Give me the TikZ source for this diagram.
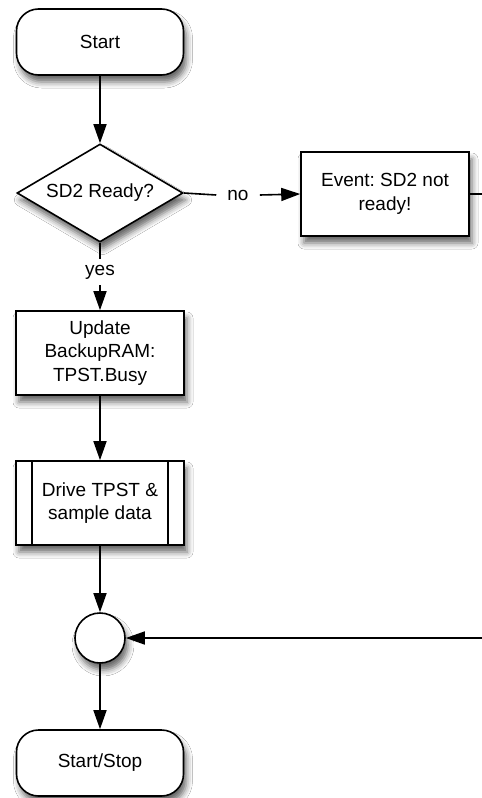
\documentclass[tikz,border=0pt]{standalone}
\usepackage{fontspec}
\setmainfont{Liberation Sans}
\frenchspacing
\usetikzlibrary{shapes.geometric,arrows.meta,shadows.blur}
\begin{document}
\begin{tikzpicture}[x=1pt,y=-1pt,
  font=\fontsize{19}{23.5}\selectfont\frenchspacing,
  shd/.style={blur shadow={shadow xshift=3pt,shadow yshift=-7pt,shadow blur radius=6pt,shadow opacity=60}},
  term/.style={draw,line width=1.6pt,fill=white,rounded corners=22pt,minimum width=167pt,minimum height=66pt,inner sep=0pt,shd},
  procbox/.style={draw,line width=1.6pt,fill=white,minimum width=168pt,minimum height=84pt,inner sep=0pt,align=center,shd},
  decision/.style={draw,line width=1.6pt,fill=white,diamond,aspect=1.7,minimum width=166pt,minimum height=98pt,inner sep=0pt,shd},
  junction/.style={draw,line width=1.6pt,fill=white,circle,minimum size=50pt,inner sep=0pt,shd},
  lbl/.style={inner xsep=11pt,inner ysep=6pt},
  conn/.style={line width=1.6pt},
  arr/.style={line width=1.6pt,-{Triangle[length=19pt,width=13pt]}}
]
\clip (0,0) rectangle (482,798);
\fill[white] (0,0) rectangle (482,798);
\node[term] (start) at (100,42) {Start};
\node[decision] (sd2) at (100,193) {SD2 Ready?};
\node[lbl] (no) at (238,195) {no};
\node[procbox] (event) at (385,194) {Event: SD2 not\\ready!};
\node[lbl] (yes) at (100,272) {yes};
\node[procbox] (update) at (100,353) {Update\\BackupRAM:\\TPST.Busy};
\node[procbox] (drive) at (100,503) {Drive TPST \&\\sample data};
\draw[line width=1.6pt] ([xshift=17pt]drive.north west) -- ([xshift=17pt]drive.south west);
\draw[line width=1.6pt] ([xshift=-17pt]drive.north east) -- ([xshift=-17pt]drive.south east);
\node[junction] (join) at (100,638) {};
\node[term] (stop) at (100,763) {Start/Stop};
\coordinate (r1) at (500,194);
\coordinate (r2) at (500,638);

\draw[arr] (start) -- (sd2);
\draw[conn] (sd2.east) -- (no.west);
\draw[arr] (no.east) -- (event.west);
\draw[conn] (sd2.south) -- (yes.north);
\draw[arr] (yes.south) -- (update.north);
\draw[arr] (update) -- (drive);
\draw[arr] (drive) -- (join);
\draw[arr] (event.east) -- (r1) -- (r2) -- (join.east);
\draw[arr] (join) -- (stop);
\end{tikzpicture}
\end{document}
